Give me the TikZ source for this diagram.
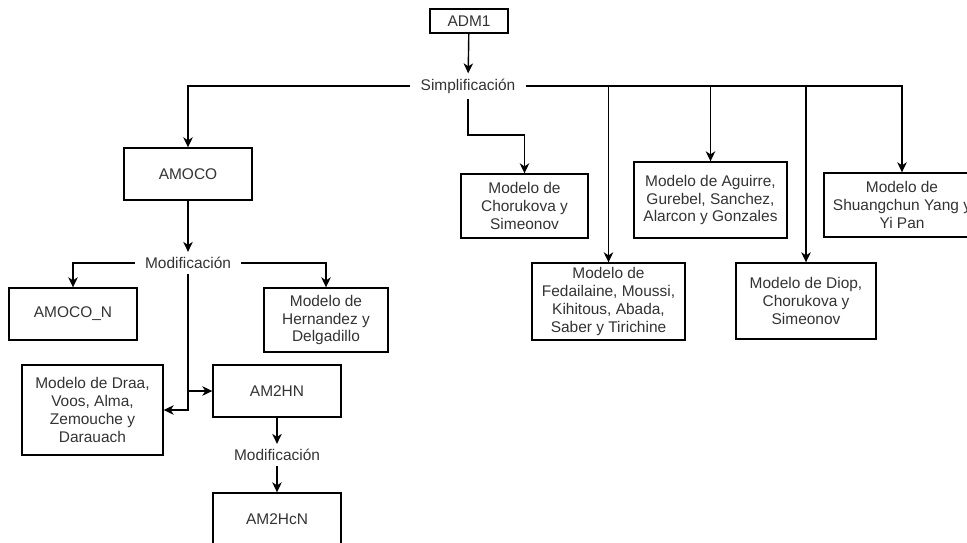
\documentclass[tikz,border=0pt]{standalone}
\usepackage{fontspec}
\setmainfont{Liberation Sans}
\usepackage{tikz}
\usetikzlibrary{arrows.meta}
\definecolor{darktext}{HTML}{333333}

\begin{document}
\begin{tikzpicture}[x=0.02cm,y=-0.02cm,
  font=\fontsize{8.8}{10.2}\selectfont,
  box/.style={draw,line width=0.8pt,align=center,text=darktext,inner sep=0pt},
  lbl/.style={text=darktext,inner xsep=0.2cm,inner ysep=0.1cm},
  arr/.style={line width=0.8pt,-{Stealth[length=2mm,width=1.9mm,inset=0.6mm]}}]
\useasboundingbox (0,0) rectangle (967,542);

\node[box,minimum width=1.56cm,minimum height=0.48cm] (adm) at (469,21) {ADM1};
\node[lbl] (simp) at (468,86) {Simplificación};

\node[box,minimum width=2.56cm,minimum height=1.04cm] (amoco) at (188,174) {AMOCO};
\node[lbl] (modA) at (188,263) {Modificación};
\node[box,minimum width=2.56cm,minimum height=1.04cm] (amocon) at (73,314) {AMOCO\_N};
\node[box,minimum width=2.48cm,minimum height=1.28cm] (hern) at (326,320) {Modelo de\\Hernandez y\\Delgadillo};
\node[box,minimum width=2.82cm,minimum height=1.8cm] (draa) at (92.5,410) {Modelo de Draa,\\Voos, Alma,\\Zemouche y\\Darauach};
\node[box,minimum width=2.56cm,minimum height=1.04cm] (amhn) at (277,391) {AM2HN};
\node[lbl] (modB) at (277,455) {Modificación};
\node[box,minimum width=2.56cm,minimum height=1.04cm] (amhcn) at (277,519) {AM2HcN};

\node[box,minimum width=2.54cm,minimum height=1.28cm] (chor) at (524.5,206) {Modelo de\\Chorukova y\\Simeonov};
\node[box,minimum width=3.06cm,minimum height=1.54cm] (fed) at (608.5,301.5) {Modelo de\\Fedailaine, Moussi,\\Kihitous, Abada,\\Saber y Tirichine};
\node[box,minimum width=3.06cm,minimum height=1.52cm] (agu) at (710.5,200) {Modelo de Aguirre,\\Gurebel, Sanchez,\\Alarcon y Gonzales};
\node[box,minimum width=2.8cm,minimum height=1.52cm] (diop) at (806,301) {Modelo de Diop,\\Chorukova y\\Simeonov};
\node[box,minimum width=3.12cm,minimum height=1.28cm] (shu) at (902,205) {Modelo de\\Shuangchun Yang y\\Yi Pan};

\coordinate (kchor) at (468,135);

\draw[arr] (adm) -- (simp);
\draw[arr] (simp.west) -| (amoco.north);
\draw[arr] (simp.east) -| (shu.north);
\draw[arr] (fed.north |- simp.east) -- (fed.north);
\draw[arr] (agu.north |- simp.east) -- (agu.north);
\draw[arr] (diop.north |- simp.east) -- (diop.north);
\draw[arr] (simp.south) -- (kchor) -| (chor.north);

\draw[arr] (amoco) -- (modA);
\draw[arr] (modA.west) -| (amocon.north);
\draw[arr] (modA.east) -| (hern.north);
\draw[arr] (modA.south) |- (draa.east);
\draw[arr] (modA.south |- amhn.west) -- (amhn.west);
\draw[arr] (amhn) -- (modB);
\draw[arr] (modB) -- (amhcn);

\end{tikzpicture}
\end{document}
